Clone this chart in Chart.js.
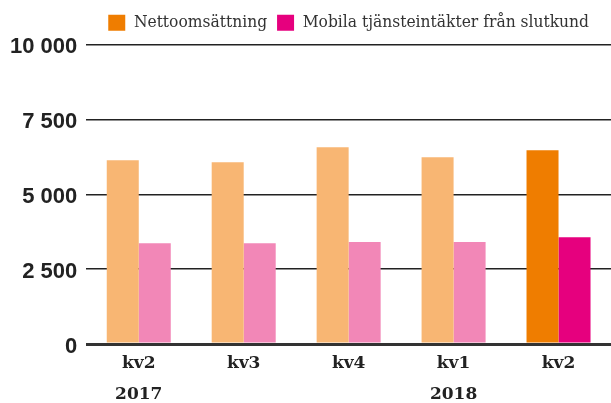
<!DOCTYPE html>
<html>
<head>
<meta charset="utf-8">
<script src="https://cdn.jsdelivr.net/npm/chart.js@4"></script>
<style>
  html,body{margin:0;padding:0;background:#fff;}
  #wrap{width:611px;height:403px;}
</style>
</head>
<body>
<div id="wrap"><canvas id="chart"></canvas></div>
<script>
// Kvartal + år (år bara under första kvartalet)
const kvartal = ["kv2","kv3","kv4","kv1","kv2"];
const ar = ["2017","","","2018",""];
const seriesNamn = ["Nettoomsättning","Mobila tjänsteintäkter från slutkund"];
const nettoomsattning = [6140, 6075, 6575, 6240, 6475];
const mobilaIntakter = [3370, 3370, 3405, 3405, 3570];
const yTicks = [0, 2500, 5000, 7500, 10000];

const ljus = ["#F8B673", "#F287B7"];
const mork = ["#EF7D00", "#E6007E"];

const sista = kvartal.length - 1;
const labels = kvartal.map((k,i)=> [k, ar[i]]);

function farg(serie){
  return ctx => ctx.dataIndex === sista ? mork[serie] : ljus[serie];
}

// "10 000"
function fmt(v){
  return String(v).replace(/\B(?=(\d{3})+(?!\d))/g, " ");
}

// lite mer luft under legenden
const legendLuft = {
  id:"legendLuft",
  beforeInit(chart){
    const fit = chart.legend.fit;
    chart.legend.fit = function(){
      fit.call(this);
      this.height += 3.5;
    };
  }
};

new Chart(document.getElementById("chart"),{
  type:"bar",
  data:{
    labels,
    datasets:[
      {label:seriesNamn[0], data:nettoomsattning, backgroundColor:farg(0)},
      {label:seriesNamn[1], data:mobilaIntakter, backgroundColor:farg(1)}
    ]
  },
  plugins:[legendLuft],
  options:{
    responsive:true,
    maintainAspectRatio:false,
    animation:false,
    layout:{padding:{top:4,right:0,left:1,bottom:0}},
    datasets:{bar:{categoryPercentage:0.61, barPercentage:1, borderWidth:0}},
    plugins:{
      tooltip:{enabled:false},
      legend:{
        position:"top",
        fullSize:false,
        labels:{
          boxWidth:17,
          boxHeight:16,
          padding:10,
          color:"#333",
          font:{family:"'DejaVu Serif Condensed','DejaVu Serif',serif", size:17.25},
          generateLabels(chart){
            const items = Chart.defaults.plugins.legend.labels.generateLabels(chart);
            items.forEach((it,i)=>{
              it.fillStyle = mork[i];
              it.strokeStyle = mork[i];
              it.lineWidth = 0;
            });
            return items;
          }
        }
      }
    },
    scales:{
      x:{
        grid:{display:false, drawTicks:false},
        border:{display:false},
        ticks:{
          padding:4.5,
          color:"#222",
          maxRotation:0,
          font:{family:"'DejaVu Serif',serif", size:17, weight:"bold", lineHeight:1.82}
        },
        afterFit(scale){ scale.height = 59; }
      },
      y:{
        min:0,
        max:10000,
        afterBuildTicks(scale){ scale.ticks = yTicks.map(v=>({value:v})); },
        grid:{
          drawTicks:false,
          color:ctx => ctx.tick && ctx.tick.value === 0 ? "#333" : "#222",
          lineWidth:ctx => ctx.tick && ctx.tick.value === 0 ? 3 : 1.4
        },
        border:{display:false},
        ticks:{
          padding:9,
          color:"#222",
          font:{family:"'Liberation Sans',Arial,sans-serif", size:22, weight:"bold", lineHeight:0.23},
          // tom första rad skjuter ner etiketten en aning
          callback:v=>["", fmt(v)]
        }
      }
    }
  }
});
</script>
</body>
</html>
